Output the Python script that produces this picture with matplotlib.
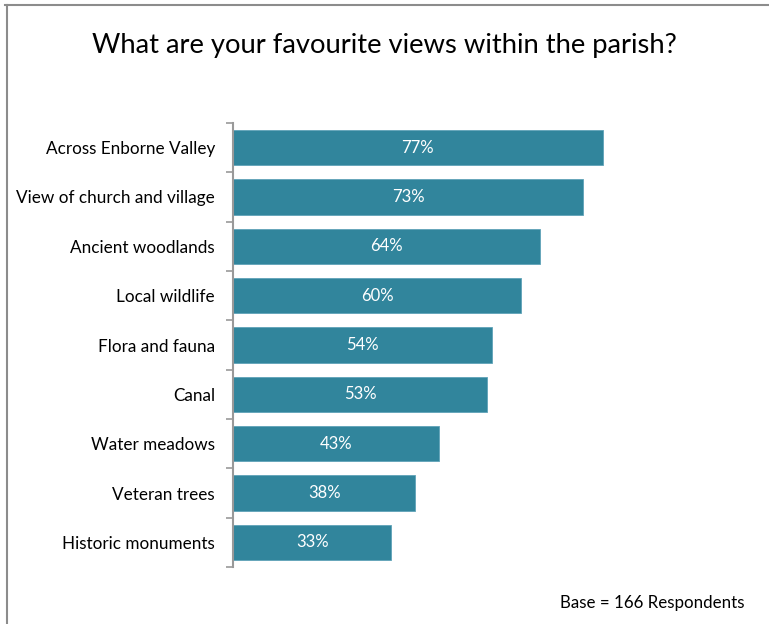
import matplotlib.pyplot as plt
from matplotlib.lines import Line2D

categories = [
    'Across Enborne Valley',
    'View of church and village',
    'Ancient woodlands',
    'Local wildlife',
    'Flora and fauna',
    'Canal',
    'Water meadows',
    'Veteran trees',
    'Historic monuments',
]
values = [77, 73, 64, 60, 54, 53, 43, 38, 33]

title = 'What are your favourite views within the parish?'
base_note = 'Base = 166 Respondents'

plt.rcParams['font.family'] = ['Lato', 'DejaVu Sans']

W, H = 769, 624
fig = plt.figure(figsize=(W / 100, H / 100), dpi=100)

# axes box in pixels: left 233, right 713, top 123, bottom 567
ax = fig.add_axes([233 / W, 1 - 567 / H, 480 / W, (567 - 123) / H])

y = list(range(len(categories)))
bars = ax.barh(y, values, height=0.71, color='#31859C', edgecolor='#5FA3B8', linewidth=0.6)
ax.set_ylim(len(categories) - 0.5, -0.5)
ax.set_xlim(0, 100)

for rect, v in zip(bars, values):
    ax.text(rect.get_width() / 2, rect.get_y() + rect.get_height() / 2, '{}%'.format(v),
            ha='center', va='center', color='white', fontsize=12)

ax.set_yticks([i - 0.5 for i in range(len(categories) + 1)])
ax.set_yticklabels([])
ax.set_yticks(y, minor=True)
ax.set_yticklabels(categories, minor=True, fontsize=12.3)
ax.tick_params(axis='y', which='major', length=5, width=1.2, color='#999999', direction='out')
ax.tick_params(axis='y', which='minor', length=0, pad=13)
ax.set_xticks([])

for s in ['top', 'right', 'bottom']:
    ax.spines[s].set_visible(False)
ax.spines['left'].set_color('#999999')
ax.spines['left'].set_linewidth(1.5)

fig.text(0.5, 1 - 45 / H, title, ha='center', va='center', fontsize=19.7)
fig.text(745 / W, 1 - 603 / H, base_note, ha='right', va='center', fontsize=12.2)

# frame lines around the slide
fig.add_artist(Line2D([5 / W, 1], [1 - 5 / H, 1 - 5 / H], color='#8c8c8c', linewidth=1.5))
fig.add_artist(Line2D([7 / W, 7 / W], [0, 1 - 5 / H], color='#8c8c8c', linewidth=1.5))

fig.savefig('out.png', dpi=100)
